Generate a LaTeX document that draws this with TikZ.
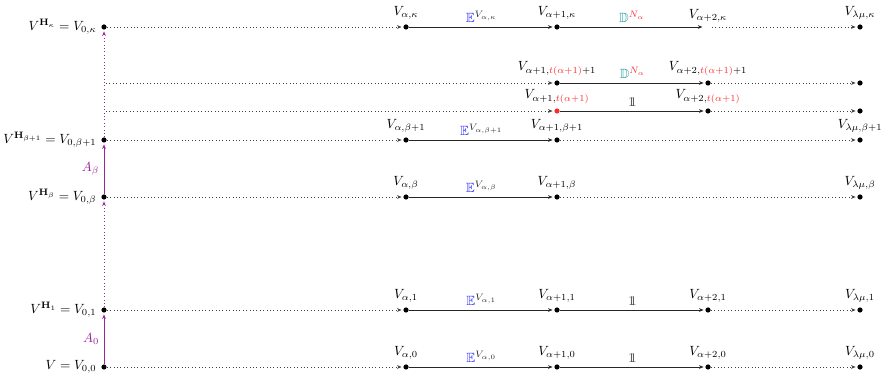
\documentclass[tikz,border=0pt]{standalone}
\usepackage{amsmath,amssymb}
\usetikzlibrary{arrows.meta}
\definecolor{eblue}{RGB}{45,45,255}
\definecolor{dteal}{RGB}{20,150,150}
\definecolor{tred}{RGB}{250,45,45}
\definecolor{apurple}{RGB}{155,35,155}
\definecolor{onegray}{RGB}{80,80,80}
\newcommand{\tr}[1]{\textcolor{tred}{#1}}
% double-struck one
\newcommand{\idone}{\textcolor{onegray}{\mathrm{1}\mkern-6.5mu\mathrm{1}}}
\begin{document}
\begin{tikzpicture}[x=0.75pt,y=-0.75pt,
  dot/.style={circle,fill=black,inner sep=0pt,minimum size=3.9pt},
  reddot/.style={dot,fill=tred},
  tip/.style={-{Stealth[length=3.4pt,width=2.8pt]},shorten >=1.2pt},
  map/.style={tip,line width=0.7pt,black!85},
  faint/.style={tip,dotted,line width=0.55pt,black!75},
  amap/.style={tip,line width=0.7pt,apurple},
  afaint/.style={tip,dotted,line width=0.55pt,apurple},
  elab/.style={above,inner sep=2pt,yshift=1pt},
  lab/.style={label distance=0pt}]
\useasboundingbox (0,0) rectangle (881,373);

% grid columns: 0, alpha, alpha+1, alpha+2, lambda mu
% row kappa
\node[dot,label={[lab]left:$V^{\mathbf{H}_\kappa}=V_{0,\kappa}$}] (zk) at (104,27) {};
\node[dot,label={above:$V_{\alpha,\kappa}$}] (ak) at (406,27) {};
\node[dot,label={above:$V_{\alpha+1,\kappa}$}] (bk) at (557,27) {};
\coordinate (ck) at (704,27);
\node[above] (ckl) at (708,27) {$V_{\alpha+2,\kappa}$};
\coordinate (ck2) at (712,27);
\node[dot,label={above:$V_{\lambda\mu,\kappa}$}] (lk) at (860,27) {};

% row t(alpha+1)+1
\coordinate (s2) at (106,83);
\node[dot,label={above:$V_{\alpha+1,\tr{t(\alpha+1)}+1}$}] (b2) at (557,83) {};
\node[dot,label={above:$V_{\alpha+2,\tr{t(\alpha+1)}+1}$}] (c2) at (708,83) {};
\node[dot] (l2) at (860,83) {};

% row t(alpha+1)
\coordinate (s3) at (106,111);
\node[reddot,label={above:$V_{\alpha+1,\tr{t(\alpha+1)}}$}] (b3) at (557,111) {};
\node[dot,label={above:$V_{\alpha+2,\tr{t(\alpha+1)}}$}] (c3) at (708,111) {};
\node[dot] (l3) at (860,111) {};

% row beta+1
\node[dot,label={[lab]left:$V^{\mathbf{H}_{\beta+1}}=V_{0,\beta+1}$}] (zb1) at (104,140) {};
\node[dot,label={above:$V_{\alpha,\beta+1}$}] (ab1) at (406,140) {};
\node[dot,label={above:$V_{\alpha+1,\beta+1}$}] (bb1) at (557,140) {};
\node[dot,label={above:$V_{\lambda\mu,\beta+1}$}] (lb1) at (860,140) {};

% row beta
\node[dot,label={[lab]left:$V^{\mathbf{H}_\beta}=V_{0,\beta}$}] (zb) at (104,197) {};
\node[dot,label={above:$V_{\alpha,\beta}$}] (ab) at (406,197) {};
\node[dot,label={above:$V_{\alpha+1,\beta}$}] (bb) at (557,197) {};
\node[dot,label={above:$V_{\lambda\mu,\beta}$}] (lb) at (860,197) {};

% row 1
\node[dot,label={[lab]left:$V^{\mathbf{H}_1}=V_{0,1}$}] (z1) at (104,310) {};
\node[dot,label={above:$V_{\alpha,1}$}] (a1) at (406,310) {};
\node[dot,label={above:$V_{\alpha+1,1}$}] (b1) at (557,310) {};
\node[dot,label={above:$V_{\alpha+2,1}$}] (c1) at (708,310) {};
\node[dot,label={above:$V_{\lambda\mu,1}$}] (l1) at (860,310) {};

% row 0
\node[dot,label={[lab]left:$V=V_{0,0}$}] (z0) at (104,367) {};
\node[dot,label={above:$V_{\alpha,0}$}] (a0) at (406,367) {};
\node[dot,label={above:$V_{\alpha+1,0}$}] (b0) at (557,367) {};
\node[dot,label={above:$V_{\alpha+2,0}$}] (c0) at (708,367) {};
\node[dot,label={above:$V_{\lambda\mu,0}$}] (l0) at (860,367) {};

% horizontal maps
\draw[faint] (zk) -- (ak);
\draw[map] (ak) -- node[elab]{$\textcolor{eblue}{\mathbb{E}}^{V_{\alpha,\kappa}}$} (bk);
\draw[map] (bk) -- node[elab]{$\textcolor{dteal}{\mathbb{D}}^{\tr{N_\alpha}}$} (ck);
\draw[faint] (ck2) -- (lk);

\draw[faint] (s2) -- (b2);
\draw[map] (b2) -- node[elab]{$\textcolor{dteal}{\mathbb{D}}^{\tr{N_\alpha}}$} (c2);
\draw[faint] (c2) -- (l2);

\draw[faint] (s3) -- (b3);
\draw[map] (b3) -- node[elab]{$\idone$} (c3);
\draw[faint] (c3) -- (l3);

\draw[faint] (zb1) -- (ab1);
\draw[map] (ab1) -- node[elab]{$\textcolor{eblue}{\mathbb{E}}^{V_{\alpha,\beta+1}}$} (bb1);
\draw[faint] (bb1) -- (lb1);

\draw[faint] (zb) -- (ab);
\draw[map] (ab) -- node[elab]{$\textcolor{eblue}{\mathbb{E}}^{V_{\alpha,\beta}}$} (bb);
\draw[faint] (bb) -- (lb);

\draw[faint] (z1) -- (a1);
\draw[map] (a1) -- node[elab]{$\textcolor{eblue}{\mathbb{E}}^{V_{\alpha,1}}$} (b1);
\draw[map] (b1) -- node[elab]{$\idone$} (c1);
\draw[faint] (c1) -- (l1);

\draw[faint] (z0) -- (a0);
\draw[map] (a0) -- node[elab]{$\textcolor{eblue}{\mathbb{E}}^{V_{\alpha,0}}$} (b0);
\draw[map] (b0) -- node[elab]{$\idone$} (c0);
\draw[faint] (c0) -- (l0);

% vertical maps
\draw[amap] (z0) -- node[left,text=apurple]{$A_0$} (z1);
\draw[afaint] (z1) -- (zb);
\draw[amap] (zb) -- node[left,text=apurple]{$A_\beta$} (zb1);
\draw[afaint] (zb1) -- (zk);
\end{tikzpicture}
\end{document}
